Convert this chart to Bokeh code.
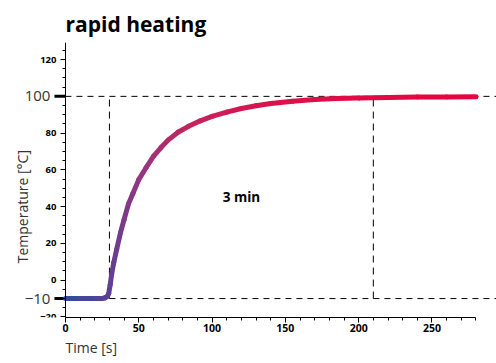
import numpy as np
from bokeh.plotting import figure
from bokeh.models import Range1d, FixedTicker, Label, Title
from bokeh.embed import file_html
from bokeh.resources import INLINE

# ---- data ----
time_s = [0, 10, 20, 25, 27, 28.5, 29.5, 30.5, 31.5, 33, 35, 37.5, 40, 43, 46, 50,
          55, 60, 65, 70, 77, 84, 92, 100, 110, 120, 130, 140, 155, 170, 185, 200,
          220, 240, 260, 280]
temp_c = [-10, -10, -10, -9.9, -9.6, -8.8, -7.3, -2.5, 3.2, 9.8, 17, 25.7, 33, 41.5,
          47.2, 54.7, 61.2, 67.3, 72, 76.2, 80.6, 83.7, 86.7, 89.1, 91.4, 93.4, 94.9,
          96.1, 97.4, 98.3, 98.8, 99.1, 99.4, 99.6, 99.7, 99.8]

ref_levels = [-10, 100]          # horizontal dashed reference temperatures
ref_level_labels = ["\u221210", "100"]
ref_times = [30, 210]            # vertical dashed reference times
span_label = "3 min"

x_ticks = [0, 50, 100, 150, 200, 250]
y_ticks = [-20, 0, 20, 40, 60, 80, 100, 120]

X0, X1 = -44.3, 294.0
Y0, Y1 = -20.3, 129.3

# ---- figure ----
p = figure(width=496, height=363, output_backend="svg", toolbar_location=None,
           x_range=Range1d(X0, X1), y_range=Range1d(Y0, Y1),
           min_border_left=0, min_border_right=0, min_border_top=42,
           min_border_bottom=46)
p.background_fill_color = "white"
p.border_fill_color = "white"
p.outline_line_color = None
p.grid.visible = False

p.title.text = "rapid heating"
p.title.text_font = "Open Sans"
p.title.text_font_style = "bold"
p.title.text_font_size = "21px"
p.title.text_color = "black"
p.title.align = "left"
p.title.offset = 65

# x axis
xa = p.xaxis[0]
xa.ticker = FixedTicker(ticks=x_ticks, minor_ticks=list(range(0, 281, 10)))
xa.bounds = (0, 280)
xa.axis_line_color = "black"
xa.major_tick_line_color = "black"
xa.minor_tick_line_color = "black"
xa.major_tick_in = 0
xa.major_tick_out = 5
xa.minor_tick_in = 0
xa.minor_tick_out = 3
xa.major_label_standoff = 1
xa.major_label_text_font = "Open Sans"
xa.major_label_text_font_style = "bold"
xa.major_label_text_font_size = "10.5px"
xa.major_label_text_color = "black"

p.add_layout(Title(text="Time [s]", align="left", offset=65, standoff=2,
                   text_font="Open Sans", text_font_style="normal",
                   text_font_size="14px", text_color="#333333"), "below")

# y axis, drawn at x = 0
ya = p.yaxis[0]
ya.fixed_location = 0
ya.bounds = (Y0, Y1)
ya.ticker = FixedTicker(ticks=y_ticks, minor_ticks=list(range(-20, 131, 5)))
ya.axis_line_color = "black"
ya.major_tick_line_color = "black"
ya.minor_tick_line_color = "black"
ya.major_tick_in = 0
ya.major_tick_out = 5
ya.minor_tick_in = 0
ya.minor_tick_out = 3
ya.major_label_standoff = 4
ya.major_label_text_font = "Open Sans"
ya.major_label_text_font_style = "bold"
ya.major_label_text_font_size = "9.5px"
ya.major_label_text_color = "black"
ya.major_label_overrides = {100: ""}

# dashed reference lines
n = len(ref_levels)
p.segment(x0=[0] * n, y0=ref_levels, x1=[X1] * n, y1=ref_levels,
          line_color="black", line_width=1, line_dash="6 5")
p.segment(x0=ref_times, y0=[min(ref_levels)] * len(ref_times),
          x1=ref_times, y1=[max(ref_levels)] * len(ref_times),
          line_color="black", line_width=1, line_dash="7 5")

# thick ticks and big labels at the reference temperatures
p.segment(x0=[-7.5] * n, y0=ref_levels, x1=[0] * n, y1=ref_levels,
          line_color="black", line_width=3)
for lvl, lab in zip(ref_levels, ref_level_labels):
    p.add_layout(Label(x=0, y=lvl, x_offset=-15, text=lab, text_align="right",
                       text_baseline="middle", text_font="Open Sans",
                       text_font_size="15px", text_color="#333333"))

# gradient curve: colour follows the path length
tx = np.array(time_s, dtype=float)
ty = np.array(temp_c, dtype=float)
sx = 496 / (X1 - X0)
sy = 275 / (Y1 - Y0)
seg = np.hypot(np.diff(tx) * sx, np.diff(ty) * sy)
cum = np.concatenate([[0], np.cumsum(seg)])
mid = (cum[:-1] + cum[1:]) / 2 / cum[-1]
stops_f = [0.0, 0.05, 0.09, 0.20, 0.32, 0.45, 0.60, 1.0]
stops_c = ["#2a4c9c", "#4a4599", "#5c4095", "#723c8c", "#933780", "#c0265f",
           "#dc124c", "#e8023e"]
rgb = np.array([[int(c[i:i + 2], 16) for i in (1, 3, 5)] for c in stops_c], dtype=float)
cols = []
for f in mid:
    r = np.interp(f, stops_f, rgb[:, 0])
    g = np.interp(f, stops_f, rgb[:, 1])
    b = np.interp(f, stops_f, rgb[:, 2])
    cols.append("#%02x%02x%02x" % (int(round(r)), int(round(g)), int(round(b))))

p.segment(x0=tx[:-1], y0=ty[:-1], x1=tx[1:], y1=ty[1:], line_color=cols,
          line_width=5, line_cap="round")

# annotation text
p.add_layout(Label(x=(ref_times[0] + ref_times[1]) / 2, y=(ref_levels[0] + ref_levels[1]) / 2,
                   text=span_label, text_align="center", text_baseline="middle",
                   text_font="Open Sans", text_font_style="bold", text_font_size="13.5px",
                   text_color="black"))

# y axis title
p.add_layout(Label(x=0, y=40, x_offset=-43, text="Temperature [°C]", angle=np.pi / 2,
                   text_align="center", text_baseline="middle", text_font="Open Sans",
                   text_font_size="14px", text_color="#333333"))

open("out.html", "w").write(file_html(p, INLINE))
